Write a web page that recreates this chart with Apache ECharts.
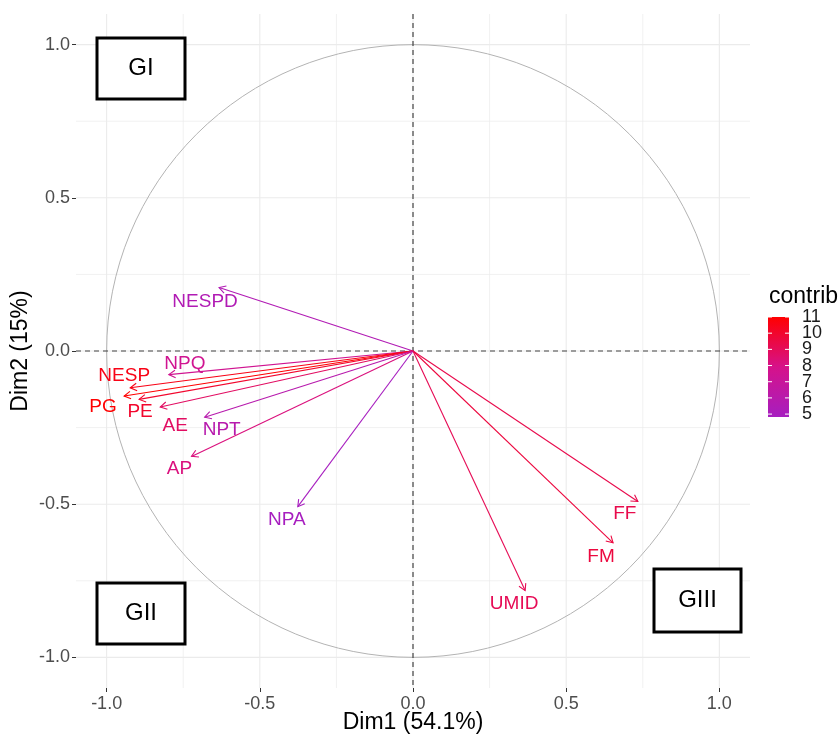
<!DOCTYPE html>
<html><head><meta charset="utf-8">
<script src="https://cdn.jsdelivr.net/npm/echarts@6/dist/echarts.min.js"></script>
<style>html,body{margin:0;padding:0;background:#fff}#c{width:840px;height:734px}</style>
</head><body><div id="c"></div>
<script>
// ---- data ----
const variables = ['NESPD','NPQ','NESP','PG','PE','AE','NPT','AP','NPA','FF','FM','UMID'];
const dim1 = [-0.633,-0.797,-0.923,-0.943,-0.894,-0.825,-0.680,-0.723,-0.376,0.734,0.653,0.366];
const dim2 = [0.207,-0.077,-0.120,-0.147,-0.158,-0.183,-0.216,-0.344,-0.508,-0.491,-0.626,-0.782];
const contrib = [5.5,7.5,10.5,11.0,10.0,8.8,5.9,8.2,4.9,9.3,9.6,9.1];
const axisTicks = [-1,-0.5,0,0.5,1];
const minorTicks = [-0.75,-0.25,0.25,0.75];
const legendTicks = [5,6,7,8,9,10,11];
const groupLabels = ['GI','GII','GIII'];
const xName = 'Dim1 (54.1%)';
const yName = 'Dim2 (15%)';
const legendTitle = 'contrib';

// ---- layout / style (not data) ----
const labelOffset = {NESPD:[-14,14], NPQ:[16,-11], NESP:[-6,-12], PG:[-21,11], PE:[1,12], AE:[15,19],
  NPT:[17,13], AP:[-12,12], NPA:[-11,13], FF:[-13,12], FM:[-12,14], UMID:[-11,13]};
const groupBoxes = [[97,38,88,61],[97,583,88,61],[654,569,87,63]];
const FONT = '"Liberation Sans", Arial, sans-serif';
const colorStops = [[0,'#A61EC0'],[0.5,'#D6128A'],[1,'#FF0000']];

const cMin=4.82, cMax=11.0;
const source = variables.map((v,i)=>[dim1[i],dim2[i],contrib[i],v]);

// colorbar geometry
const bar={x:768,y:317,w:21,h:100};
const barGraphics=[{type:'rect',shape:{x:bar.x,y:bar.y,width:bar.w,height:bar.h},
  style:{fill:new echarts.graphic.LinearGradient(0,1,0,0,colorStops.map(s=>({offset:s[0],color:s[1]})))}}];
legendTicks.forEach(v=>{
  const y=bar.y+(cMax-v)/(cMax-cMin)*bar.h;
  barGraphics.push({type:'line',shape:{x1:bar.x,y1:y,x2:bar.x+4,y2:y},style:{stroke:'#fff',lineWidth:1}});
  barGraphics.push({type:'line',shape:{x1:bar.x+bar.w-4,y1:y,x2:bar.x+bar.w,y2:y},style:{stroke:'#fff',lineWidth:1}});
  barGraphics.push({type:'text',x:802,y:y,style:{text:String(v),font:'18px '+FONT,fill:'#1a1a1a',verticalAlign:'middle',align:'left'}});
});
barGraphics.push({type:'text',x:769,y:297,style:{text:legendTitle,font:'23px '+FONT,fill:'#000',verticalAlign:'middle'}});
groupBoxes.forEach((b,i)=>{
  barGraphics.push({type:'rect',shape:{x:b[0],y:b[1],width:b[2],height:b[3]},style:{fill:'#fff',stroke:'#000',lineWidth:3},z:50});
  barGraphics.push({type:'text',x:b[0]+b[2]/2,y:b[1]+b[3]/2,style:{text:groupLabels[i],font:'24px '+FONT,fill:'#000',align:'center',verticalAlign:'middle'},z:51});
});

const chart=echarts.init(document.getElementById('c'));
const axisCommon={type:'value',min:-1.1,max:1.1,
  axisLine:{show:false,onZero:false},splitLine:{show:false},
  axisTick:{show:true,customValues:axisTicks,length:4,lineStyle:{color:'#333',width:1}},
  axisLabel:{customValues:axisTicks,color:'#4D4D4D',fontSize:18,fontFamily:FONT,formatter:v=>v.toFixed(1)},
  nameLocation:'middle',nameMoveOverlap:false,nameTextStyle:{color:'#000',fontSize:23,fontFamily:FONT}};
chart.setOption({
  animation:false,
  grid:{left:76,right:90,top:14,bottom:46,containLabel:false,outerBoundsMode:'none'},
  xAxis:Object.assign({},axisCommon,{position:'bottom',name:xName,nameGap:23,axisLabel:Object.assign({},axisCommon.axisLabel,{margin:7})}),
  yAxis:Object.assign({},axisCommon,{position:'left',name:yName,nameGap:44,axisLabel:Object.assign({},axisCommon.axisLabel,{margin:6})}),
  dataset:[{source:source},{source:axisTicks.map(v=>[v,1]).concat(minorTicks.map(v=>[v,0]))}],
  visualMap:{show:false,type:'continuous',dimension:2,min:cMin,max:cMax,seriesIndex:2,
    inRange:{color:colorStops.map(s=>s[1])}},
  graphic:barGraphics,
  series:[
    {type:'custom',datasetIndex:1,silent:true,z:1,renderItem:(params,api)=>{
      const cs=params.coordSys;const v=api.value(0);
      const px=api.coord([v,0])[0],py=api.coord([0,v])[1];
      const w=api.value(1)?1.1:0.7;
      return {type:'group',children:[
        {type:'line',shape:{x1:px,y1:cs.y,x2:px,y2:cs.y+cs.height},style:{stroke:'#EBEBEB',lineWidth:w}},
        {type:'line',shape:{x1:cs.x,y1:py,x2:cs.x+cs.width,y2:py},style:{stroke:'#EBEBEB',lineWidth:w}}]};
    },encode:{x:0,y:1}},
    {type:'custom',data:[[0,0]],silent:true,z:2,renderItem:(params,api)=>{
      const cs=params.coordSys;const o=api.coord([0,0]);const r=api.size([1,0])[0];
      return {type:'group',children:[
        {type:'circle',shape:{cx:o[0],cy:o[1],r:r},style:{stroke:'#B3B3B3',fill:null,lineWidth:1}},
        {type:'line',shape:{x1:o[0],y1:cs.y,x2:o[0],y2:cs.y+cs.height},style:{stroke:'#444',lineWidth:1.2,lineDash:[5,4]}},
        {type:'line',shape:{x1:cs.x,y1:o[1],x2:cs.x+cs.width,y2:o[1]},style:{stroke:'#444',lineWidth:1.2,lineDash:[5,4]}}]};
    }},
    {type:'custom',datasetIndex:0,z:3,encode:{x:0,y:1},renderItem:(params,api)=>{
      const o=api.coord([0,0]);const p=api.coord([api.value(0),api.value(1)]);
      const color=api.visual('color');
      const ang=Math.atan2(p[1]-o[1],p[0]-o[0]);const L=7.5,a=Math.PI/6;
      const h1=[p[0]-L*Math.cos(ang-a),p[1]-L*Math.sin(ang-a)];
      const h2=[p[0]-L*Math.cos(ang+a),p[1]-L*Math.sin(ang+a)];
      const name=variables[params.dataIndex];const off=labelOffset[name]||[0,12];
      return {type:'group',children:[
        {type:'line',shape:{x1:o[0],y1:o[1],x2:p[0],y2:p[1]},style:{stroke:color,lineWidth:1.1}},
        {type:'polyline',shape:{points:[h1,p,h2]},style:{stroke:color,fill:null,lineWidth:1.1}},
        {type:'text',x:p[0]+off[0],y:p[1]+off[1],style:{text:name,fill:color,font:'19px '+FONT,align:'center',verticalAlign:'middle'}}]};
    }}
  ]
});
</script></body></html>
